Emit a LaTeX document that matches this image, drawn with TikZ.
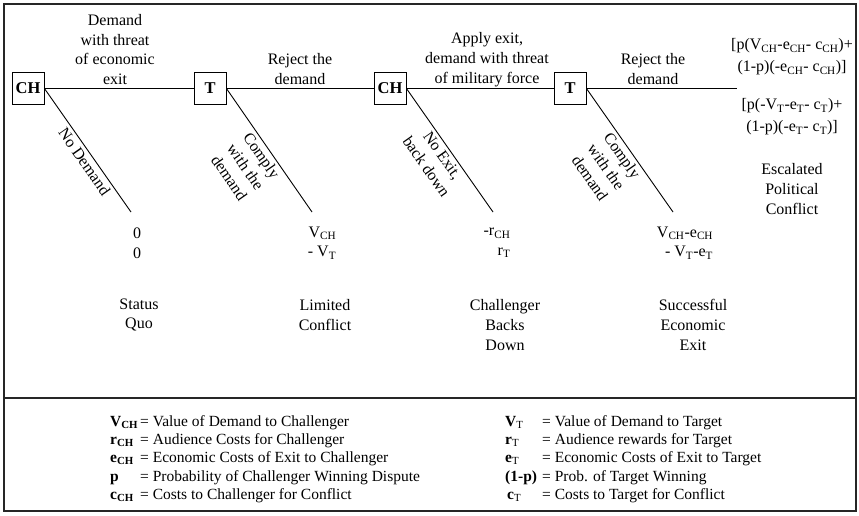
\documentclass[tikz,border=0pt]{standalone}
\usepackage{fontspec}
\setmainfont{Liberation Serif}
\begin{document}
\begin{tikzpicture}[x=1pt,y=-1pt,
  every node/.style={font=\fontsize{16}{19.7}\selectfont, inner sep=1pt},
  player/.style={draw, line width=0.9pt, minimum width=32pt, minimum height=32pt, inner sep=0pt, font=\fontsize{16.5}{19}\selectfont\bfseries, fill=white},
  branch/.style={line width=0.9pt},
  frame/.style={line width=1.3pt, draw=black!85},
  txt/.style={align=center},
  pay/.style={align=right},
  lab/.style={sloped, below, align=center, inner sep=3pt, pos=0.5},
  leg/.style={anchor=base west, font=\fontsize{15.5}{18.5}\selectfont, inner sep=0pt},
  bigpay/.style={align=center, font=\fontsize{16}{22}\selectfont}]

\useasboundingbox (0,0) rectangle (859,515);
\draw[frame] (4,4) rectangle (856,511);
\draw[frame] (4,398) -- (856,398);

% players
\node[player] (ch1) at (28,88.5) {CH};
\node[player] (t1) at (210,88.5) {T};
\node[player] (ch2) at (390,88.5) {CH};
\node[player] (t2) at (570,88.5) {T};
\coordinate (end) at (737,88.5);
\coordinate (d1) at (131,212);
\coordinate (d2) at (312,212);
\coordinate (d3) at (493,212);
\coordinate (d4) at (673,212);

% horizontal branches
\draw[branch] (ch1) -- (t1);
\draw[branch] (t1) -- (ch2);
\draw[branch] (ch2) -- (t2);
\draw[branch] (t2.east) -- (end);

% diagonal branches
\draw[branch] (ch1.east) -- node[lab, pos=0.55] (lb1) {No Demand} (d1);
\draw[branch] (t1.east) -- node[lab] (lb2) {Comply\\with the\\demand} (d2);
\draw[branch] (ch2.east) -- node[lab] (lb3) {No Exit,\\back down} (d3);
\draw[branch] (t2.east) -- node[lab] (lb4) {Comply\\with the\\demand} (d4);

% move labels
\node[txt] (m1) at (115,49.5) {Demand\\with threat\\of economic\\exit};
\node[txt] (m2) at (300,69) {Reject the\\demand};
\node[txt] (m3) at (487,59.5) {Apply exit,\\demand with threat\\of military force};
\node[txt] (m4) at (653,69) {Reject the\\demand};

% payoffs
\node[pay] (p1) at (137,243) {0\\0};
\node[pay] (p2) at (322,243) {V\textsubscript{CH}\\- V\textsubscript{T}};
\node[pay] (p3) at (497,243) {-r\textsubscript{CH}\\r\textsubscript{T}};
\node[pay] (p4) at (685,243) {V\textsubscript{CH}-e\textsubscript{CH}\\- V\textsubscript{T}-e\textsubscript{T}};
\node[bigpay] (p5a) at (792,57) {[p(V\textsubscript{CH}-e\textsubscript{CH}- c\textsubscript{CH})+\\(1-p)(-e\textsubscript{CH}- c\textsubscript{CH})]};
\node[bigpay] (p5b) at (792,117) {[p(-V\textsubscript{T}-e\textsubscript{T}- c\textsubscript{T})+\\(1-p)(-e\textsubscript{T}- c\textsubscript{T})]};

% outcomes
\node[txt] (o1) at (139,315) {Status\\Quo};
\node[txt] (o2) at (325,315) {Limited\\Conflict};
\node[txt] (o3) at (505,325) {Challenger\\Backs\\Down};
\node[txt] (o4) at (693,325) {Successful\\Economic\\Exit};
\node[txt] (o5) at (792,189) {Escalated\\Political\\Conflict};

% legend left
\node[leg] (ls1) at (110,426) {\textbf{V\textsubscript{CH}}};
\node[leg] (lt1) at (140,426) {= Value of Demand to Challenger};
\node[leg] (ls2) at (110,444) {\textbf{r\textsubscript{CH}}};
\node[leg] (lt2) at (140,444) {= Audience Costs for Challenger};
\node[leg] (ls3) at (110,462) {\textbf{e\textsubscript{CH}}};
\node[leg] (lt3) at (140,462) {= Economic Costs of Exit to Challenger};
\node[leg] (ls4) at (110,481) {\textbf{p}};
\node[leg] (lt4) at (140,481) {= Probability of Challenger Winning Dispute};
\node[leg] (ls5) at (110,499) {\textbf{c\textsubscript{CH}}};
\node[leg] (lt5) at (140,499) {= Costs to Challenger for Conflict};

% legend right
\node[leg] (rs1) at (505,426) {\textbf{V}\textsubscript{T}};
\node[leg] (rt1) at (542,426) {= Value of Demand to Target};
\node[leg] (rs2) at (505,444) {\textbf{r}\textsubscript{T}};
\node[leg] (rt2) at (542,444) {= Audience rewards for Target};
\node[leg] (rs3) at (505,462) {\textbf{e}\textsubscript{T}};
\node[leg] (rt3) at (542,462) {= Economic Costs of Exit to Target};
\node[leg] (rs4) at (505,481) {\textbf{(1-p)}};
\node[leg] (rt4) at (542,481) {= Prob. of Target Winning};
\node[leg] (rs5) at (507,499) {\textbf{c}\textsubscript{T}};
\node[leg] (rt5) at (542,499) {= Costs to Target for Conflict};
\end{tikzpicture}
\end{document}
